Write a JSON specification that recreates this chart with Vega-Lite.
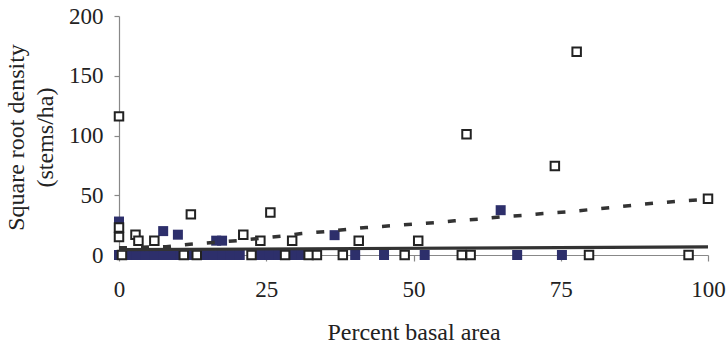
{
  "$schema": "https://vega.github.io/schema/vega-lite/v6.json",
  "width": 589,
  "height": 239,
  "autosize": "none",
  "padding": {"left": 119, "top": 16, "right": 20, "bottom": 92},
  "background": "white",
  "config": {
    "view": {"stroke": null},
    "axis": {
      "grid": false,
      "labelFont": "Liberation Serif",
      "titleFont": "Liberation Serif",
      "labelFontSize": 23,
      "titleFontSize": 24,
      "titleFontWeight": "normal",
      "labelColor": "#222",
      "titleColor": "#222",
      "domainColor": "#888",
      "tickColor": "#888",
      "domainWidth": 1.2,
      "tickWidth": 1.2
    }
  },
  "datasets": {
    "pts": [
      {"basal": 0, "density": 116, "group": "open"},
      {"basal": 0, "density": 23, "group": "open"},
      {"basal": 0, "density": 15, "group": "open"},
      {"basal": 2.8, "density": 17, "group": "open"},
      {"basal": 3.3, "density": 12, "group": "open"},
      {"basal": 6, "density": 12, "group": "open"},
      {"basal": 12.2, "density": 34, "group": "open"},
      {"basal": 21.1, "density": 17, "group": "open"},
      {"basal": 24, "density": 12, "group": "open"},
      {"basal": 25.7, "density": 35.5, "group": "open"},
      {"basal": 29.4, "density": 12, "group": "open"},
      {"basal": 40.7, "density": 12, "group": "open"},
      {"basal": 50.8, "density": 12, "group": "open"},
      {"basal": 59, "density": 101, "group": "open"},
      {"basal": 74, "density": 74.5, "group": "open"},
      {"basal": 77.7, "density": 170, "group": "open"},
      {"basal": 100, "density": 47, "group": "open"},
      {"basal": 0, "density": 28, "group": "filled"},
      {"basal": 0, "density": 21, "group": "filled"},
      {"basal": 7.5, "density": 20, "group": "filled"},
      {"basal": 10, "density": 17, "group": "filled"},
      {"basal": 16.5, "density": 12, "group": "filled"},
      {"basal": 17.5, "density": 12, "group": "filled"},
      {"basal": 36.6, "density": 16.6, "group": "filled"},
      {"basal": 64.8, "density": 37.5, "group": "filled"},
      {"basal": 0, "density": 0, "group": "filled"},
      {"basal": 1.5, "density": 0, "group": "filled"},
      {"basal": 3, "density": 0, "group": "filled"},
      {"basal": 4.5, "density": 0, "group": "filled"},
      {"basal": 6, "density": 0, "group": "filled"},
      {"basal": 7.5, "density": 0, "group": "filled"},
      {"basal": 9, "density": 0, "group": "filled"},
      {"basal": 10.5, "density": 0, "group": "filled"},
      {"basal": 12, "density": 0, "group": "filled"},
      {"basal": 14.5, "density": 0, "group": "filled"},
      {"basal": 16, "density": 0, "group": "filled"},
      {"basal": 17.5, "density": 0, "group": "filled"},
      {"basal": 19, "density": 0, "group": "filled"},
      {"basal": 20.5, "density": 0, "group": "filled"},
      {"basal": 24, "density": 0, "group": "filled"},
      {"basal": 25.5, "density": 0, "group": "filled"},
      {"basal": 27, "density": 0, "group": "filled"},
      {"basal": 29.5, "density": 0, "group": "filled"},
      {"basal": 31, "density": 0, "group": "filled"},
      {"basal": 32.8, "density": 0, "group": "filled"},
      {"basal": 40.1, "density": 0, "group": "filled"},
      {"basal": 45, "density": 0, "group": "filled"},
      {"basal": 51.9, "density": 0, "group": "filled"},
      {"basal": 67.6, "density": 0, "group": "filled"},
      {"basal": 75.2, "density": 0, "group": "filled"},
      {"basal": 0.5, "density": 0, "group": "open"},
      {"basal": 11, "density": 0, "group": "open"},
      {"basal": 13.2, "density": 0, "group": "open"},
      {"basal": 22.5, "density": 0, "group": "open"},
      {"basal": 28.2, "density": 0, "group": "open"},
      {"basal": 32.2, "density": 0, "group": "open"},
      {"basal": 33.6, "density": 0, "group": "open"},
      {"basal": 38, "density": 0, "group": "open"},
      {"basal": 48.5, "density": 0, "group": "open"},
      {"basal": 58.2, "density": 0, "group": "open"},
      {"basal": 59.7, "density": 0, "group": "open"},
      {"basal": 79.8, "density": 0, "group": "open"},
      {"basal": 96.7, "density": 0, "group": "open"}
    ],
    "dashed": [
      {"basal": 0, "density": 6},
      {"basal": 8, "density": 7},
      {"basal": 12, "density": 9},
      {"basal": 16, "density": 10.5},
      {"basal": 20, "density": 12},
      {"basal": 24, "density": 14},
      {"basal": 28, "density": 16},
      {"basal": 31, "density": 18},
      {"basal": 35, "density": 19.6},
      {"basal": 39, "density": 21.6},
      {"basal": 42, "density": 23},
      {"basal": 46, "density": 24.4},
      {"basal": 50, "density": 25.8},
      {"basal": 54, "density": 27.2},
      {"basal": 57, "density": 28.6},
      {"basal": 61, "density": 30},
      {"basal": 65, "density": 32},
      {"basal": 69, "density": 33.3},
      {"basal": 72, "density": 34.7},
      {"basal": 76, "density": 36},
      {"basal": 80, "density": 38},
      {"basal": 84, "density": 40},
      {"basal": 88, "density": 42},
      {"basal": 91, "density": 43.4},
      {"basal": 95, "density": 45},
      {"basal": 100, "density": 46.5}
    ],
    "solid": [
      {"basal": 0, "density": 4.5},
      {"basal": 100, "density": 6.8}
    ]
  },
  "encoding": {
    "x": {
      "field": "basal",
      "type": "quantitative",
      "scale": {"domain": [0, 100], "nice": false, "zero": false},
      "axis": {
        "title": "Percent basal area",
        "values": [0, 25, 50, 75, 100],
        "tickSize": 6,
        "labelPadding": 17,
        "titlePadding": 19,
        "labelFlush": false,
        "labelOverlap": false
      }
    },
    "y": {
      "field": "density",
      "type": "quantitative",
      "scale": {"domain": [0, 200], "nice": false},
      "axis": {
        "title": ["Square root density", "(stems/ha)"],
        "titleFont": "Liberation Serif",
        "titleFontSize": 24,
        "values": [0, 50, 100, 150, 200],
        "tickSize": 5,
        "labelPadding": 11,
        "titleAngle": -90,
        "titleBaseline": "top",
        "titleAlign": "center",
        "titleX": -115,
        "titleY": 121,
        "titleLineHeight": 29
      }
    }
  },
  "layer": [
    {
      "data": {"name": "pts"},
      "transform": [{"filter": "datum.group == 'filled'"}],
      "mark": {"type": "point", "shape": "square", "filled": true, "size": 100, "color": "#2d2f6b", "opacity": 1}
    },
    {
      "data": {"name": "pts"},
      "transform": [{"filter": "datum.group == 'open'"}],
      "mark": {"type": "point", "shape": "square", "filled": false, "size": 72, "stroke": "#222", "fill": "white", "fillOpacity": 1, "strokeWidth": 2, "opacity": 1}
    },
    {
      "data": {"name": "solid"},
      "mark": {"type": "line", "color": "#333", "strokeWidth": 3.2}
    },
    {
      "data": {"name": "dashed"},
      "mark": {"type": "line", "color": "#333", "strokeWidth": 3.5, "strokeDash": [8, 14]}
    }
  ]
}
